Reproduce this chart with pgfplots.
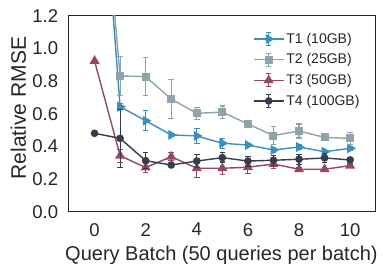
\documentclass[border=0pt]{standalone}
\usepackage{fontspec}
\setmainfont{Liberation Sans}
\usepackage{pgfplots}
\usepackage{pgfplotstable}
\pgfplotsset{compat=1.18}
\definecolor{cT1}{RGB}{58,143,190}
\definecolor{cT2}{RGB}{143,163,170}
\definecolor{cT3}{RGB}{148,72,104}
\definecolor{cT4}{RGB}{55,60,78}
\definecolor{txt}{RGB}{38,38,38}

\pgfplotstableread{
x y e
0 2.70 0.0
1 0.643 0.02
2 0.557 0.06
3 0.470 0.01
4 0.464 0.045
5 0.419 0.03
6 0.408 0.01
7 0.378 0.015
8 0.396 0.015
9 0.367 0.015
10 0.388 0.01
}\tT

\pgfplotstableread{
x y e
0 2.60 0.0
1 0.831 0.12
2 0.827 0.115
3 0.690 0.117
4 0.602 0.035
5 0.610 0.037
6 0.537 0.01
7 0.466 0.053
8 0.494 0.043
9 0.455 0.02
10 0.449 0.037
}\tTT

\pgfplotstableread{
x y e
0 0.923 0.0
1 0.343 0.04
2 0.270 0.03
3 0.337 0.025
4 0.266 0.058
5 0.266 0.04
6 0.272 0.04
7 0.292 0.03
8 0.260 0.01
9 0.260 0.01
10 0.282 0.01
}\tTTT

\pgfplotstableread{
x y e
0 0.480 0.0
1 0.449 0.178
2 0.312 0.05
3 0.286 0.01
4 0.310 0.04
5 0.331 0.03
6 0.310 0.03
7 0.315 0.03
8 0.321 0.03
9 0.329 0.03
10 0.317 0.01
}\tTTTT

\pgfplotsset{
  errleg/.style={legend image code/.code={
    \draw[mark repeat=2,mark phase=2] plot coordinates {(0pt,0pt) (15pt,0pt) (30pt,0pt)};
    \draw[mark=none,line width=1.1pt] (15pt,-6.5pt)--(15pt,6.5pt) (12.5pt,-6.5pt)--(17.5pt,-6.5pt) (12.5pt,6.5pt)--(17.5pt,6.5pt);
  }},
  ebar/.style={error bars/.cd, y dir=both, y explicit,
    error bar style={line width=1.1pt, solid},
    error mark options={rotate=90, mark size=2.8pt, line width=1.1pt}},
}

\begin{document}
\begin{tikzpicture}
\begin{axis}[
  scale only axis, width=306.7pt, height=196pt,
  xmin=-1, xmax=11, ymin=0, ymax=1.2,
  xtick={0,2,...,10}, ytick={0,0.2,...,1.2},
  /pgf/number format/assume math mode=true,
  tick label style={font=\fontsize{18.5}{20}\selectfont, text=txt, inner sep=0pt},
  yticklabel style={anchor=east, xshift=-10.7pt, /pgf/number format/.cd, fixed, fixed zerofill, precision=1},
  xticklabel style={anchor=north, yshift=-11.3pt},
  major tick length=0pt,
  axis line style={txt, line width=1pt},
  xlabel={Query Batch (50 queries per batch)},
  ylabel={Relative RMSE},
  xlabel style={font=\fontsize{20}{22}\selectfont, text=txt, at={(axis description cs:0.497,-0.222)}, anchor=center},
  ylabel style={font=\fontsize{21}{23}\selectfont, text=txt, at={(axis description cs:-0.165,0.529)}, anchor=center},
  clip marker paths=true,
  legend style={at={(axis description cs:1,1)}, anchor=north east, xshift=-14pt, yshift=-15.3pt,
    draw=none, fill=none, font=\fontsize{14}{16}\selectfont, text=txt, row sep=5pt, inner sep=0pt},
  legend cell align=left,
  every axis plot/.append style={line width=1.4pt, errleg},
]
\addplot[color=cT1, mark=triangle*, mark size=4.4pt, mark options={rotate=-90}, ebar] table[x=x,y=y,y error=e]{\tT};
\addlegendentry{T1 (10GB)}
\addplot[color=cT2, mark=square*, mark size=3.3pt, ebar] table[x=x,y=y,y error=e]{\tTT};
\addlegendentry{T2 (25GB)}
\addplot[color=cT3, mark=triangle*, mark size=4.4pt, ebar] table[x=x,y=y,y error=e]{\tTTT};
\addlegendentry{T3 (50GB)}
\addplot[color=cT4, mark=*, mark size=3.1pt, ebar] table[x=x,y=y,y error=e]{\tTTTT};
\addlegendentry{T4 (100GB)}
\end{axis}
\pgfresetboundingbox
\useasboundingbox (-69pt,-52.3pt) rectangle (314pt,211.7pt);
\end{tikzpicture}
\end{document}
